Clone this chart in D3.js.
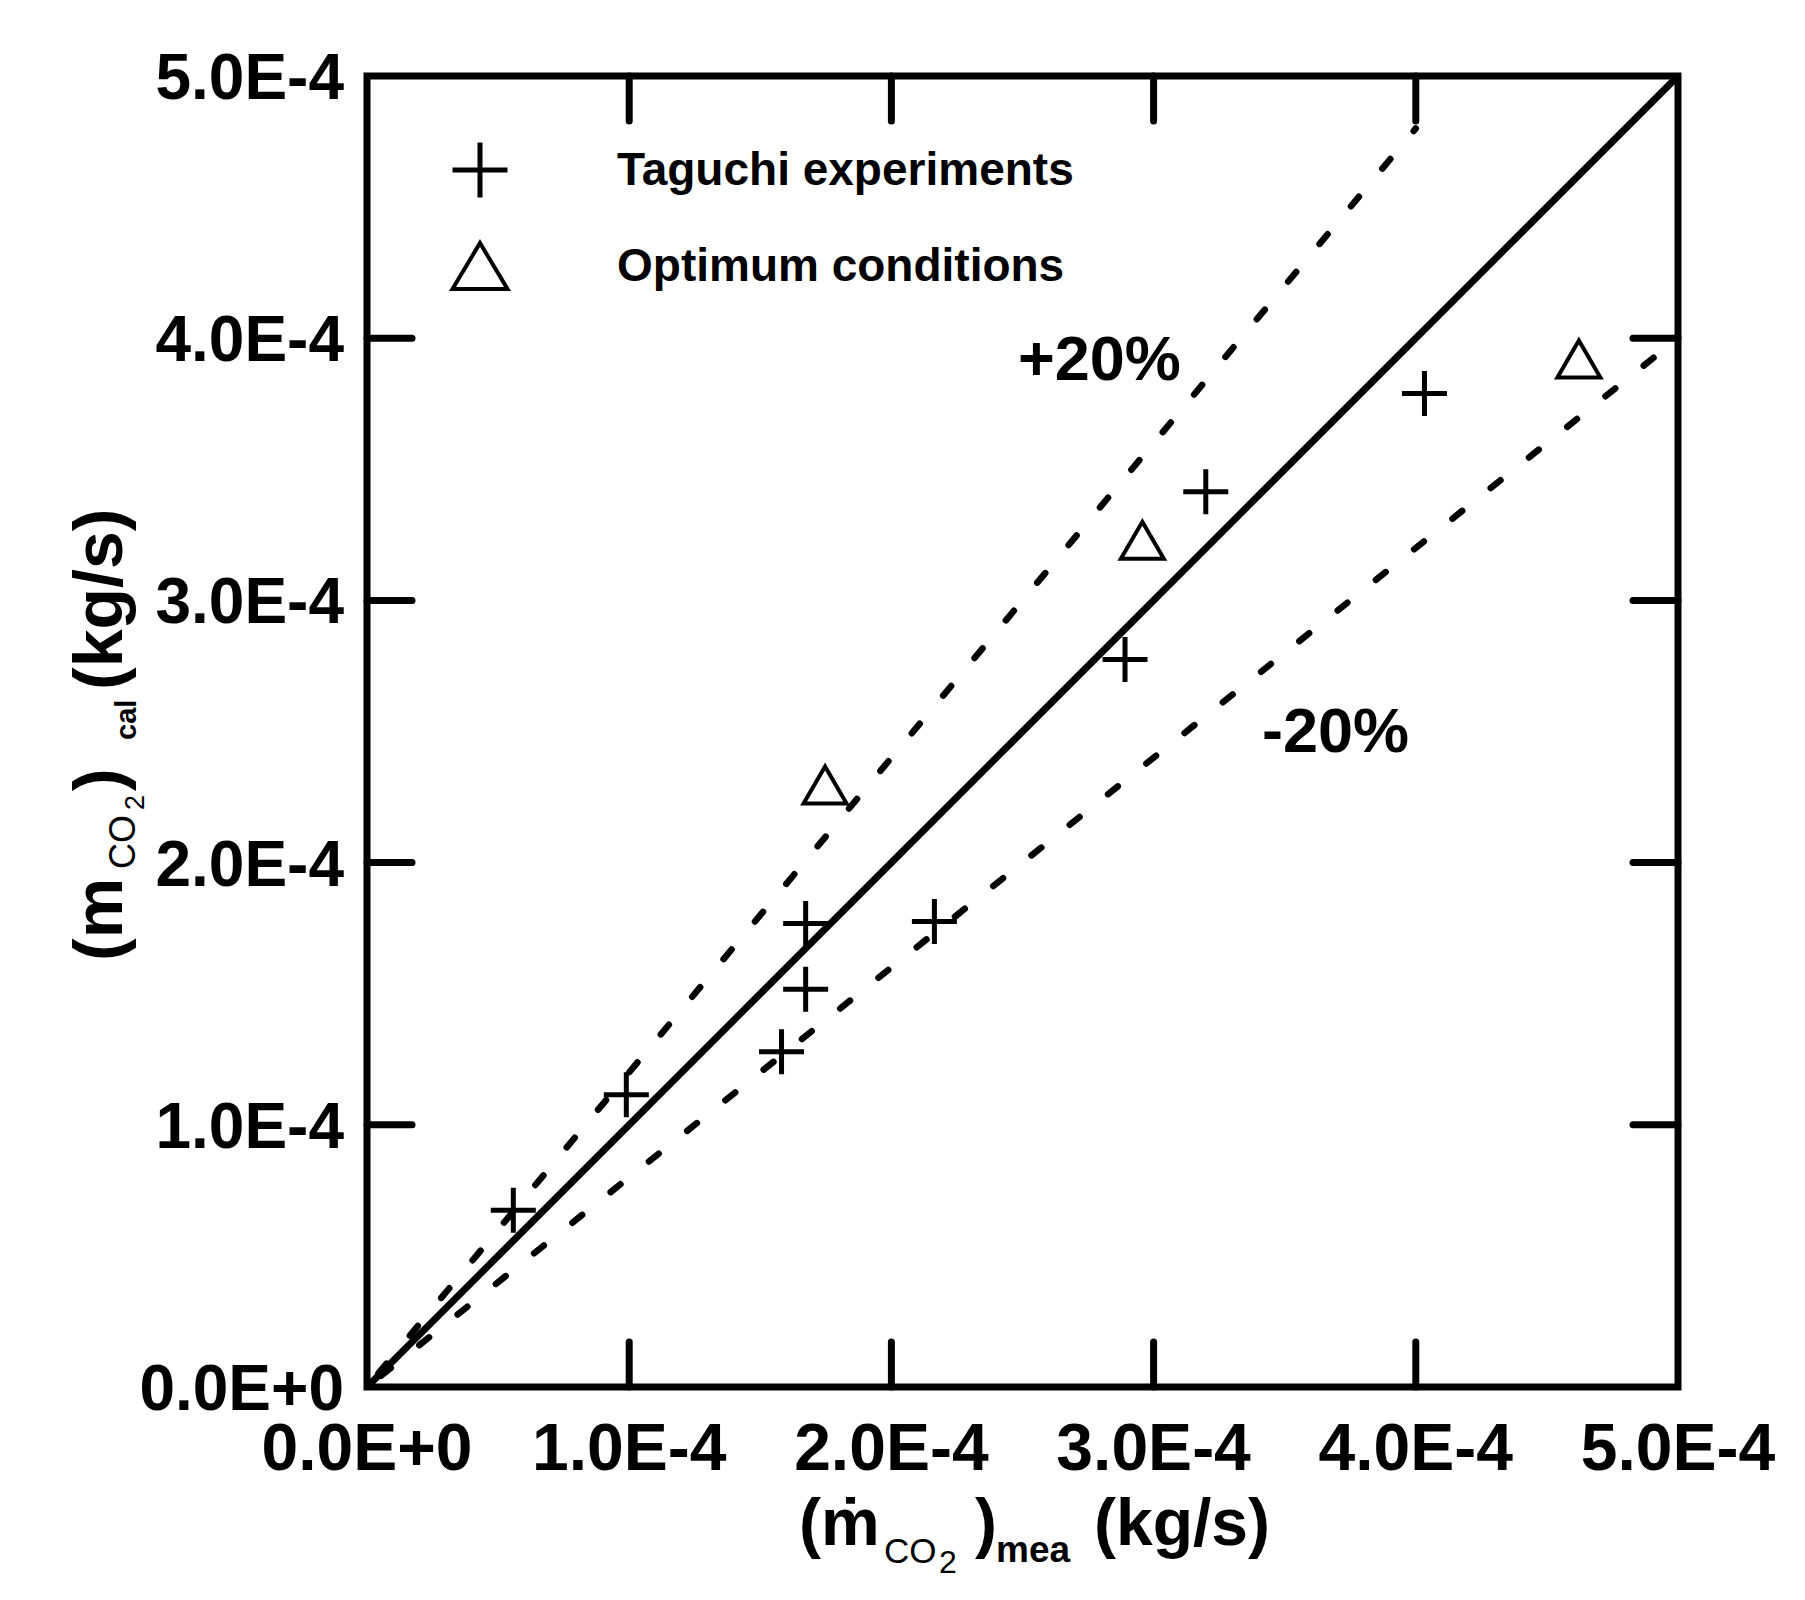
<!DOCTYPE html>
<html>
<head>
<meta charset="utf-8">
<script src="https://cdn.jsdelivr.net/npm/d3@7/dist/d3.min.js"></script>
<style>
  html, body { margin: 0; padding: 0; background: #fff; }
  svg { display: block; }
  text { font-family: "Liberation Sans", Arial, sans-serif; fill: #000; }
</style>
</head>
<body>
<svg id="chart" width="1805" height="1600"></svg>
<script>
// ---------- data (values in kg/s) ----------
const tickValues = [0, 1e-4, 2e-4, 3e-4, 4e-4, 5e-4];
const tickLabels = ["0.0E+0", "1.0E-4", "2.0E-4", "3.0E-4", "4.0E-4", "5.0E-4"];

const taguchiMea = [0.558e-4, 0.989e-4, 1.581e-4, 1.673e-4, 1.673e-4, 2.164e-4, 2.891e-4, 3.199e-4, 4.033e-4];
const taguchiCal = [0.674e-4, 1.115e-4, 1.279e-4, 1.517e-4, 1.768e-4, 1.775e-4, 2.775e-4, 3.414e-4, 3.789e-4];

const optimumMea = [1.747e-4, 2.957e-4, 4.622e-4];
const optimumCal = [2.296e-4, 3.229e-4, 3.921e-4];

// reference lines: y = factor * x, drawn from 0 to xEnd
const lineFactors = [1.0, 1.2, 0.8];
const lineEnds    = [5e-4, 4e-4, 5e-4];
const lineDashed  = [false, true, true];

const legendNames = ["Taguchi experiments", "Optimum conditions"];
const bandLabels  = ["+20%", "-20%"];

// ---------- layout ----------
const svg = d3.select("#chart");
const L = 367, R = 1678, T = 76, B = 1387;
const x = d3.scaleLinear().domain([0, 5e-4]).range([L, R]);
const y = d3.scaleLinear().domain([0, 5e-4]).range([B, T]);

const g = svg.append("g");

// reference lines
lineFactors.forEach((f, i) => {
  const pts = [[0, 0], [lineEnds[i], f * lineEnds[i]]];
  g.append("path")
    .attr("d", d3.line().x(d => x(d[0])).y(d => y(d[1]))(pts))
    .attr("fill", "none")
    .attr("stroke", "#000")
    .attr("stroke-width", lineDashed[i] ? 6.5 : 7)
    .attr("stroke-linecap", lineDashed[i] ? "round" : "butt")
    .attr("stroke-dasharray", lineDashed[i] ? "12.5,36.5" : null)
    .attr("stroke-dashoffset", lineDashed[i] ? -18 : null);
});

// ticks on all 4 sides, inward
const tickLen = 45;
const tickG = g.append("g").attr("stroke", "#000").attr("stroke-width", 7).attr("stroke-linecap", "round");
tickValues.slice(1, -1).forEach(v => {
  tickG.append("line").attr("x1", x(v)).attr("x2", x(v)).attr("y1", B).attr("y2", B - tickLen);
  tickG.append("line").attr("x1", x(v)).attr("x2", x(v)).attr("y1", T).attr("y2", T + tickLen);
  tickG.append("line").attr("y1", y(v)).attr("y2", y(v)).attr("x1", L).attr("x2", L + tickLen);
  tickG.append("line").attr("y1", y(v)).attr("y2", y(v)).attr("x1", R).attr("x2", R - tickLen);
});

// frame
g.append("rect")
  .attr("x", L).attr("y", T).attr("width", R - L).attr("height", B - T)
  .attr("fill", "none").attr("stroke", "#000").attr("stroke-width", 7);

// tick labels
tickValues.forEach((v, i) => {
  g.append("text").attr("x", x(v)).attr("y", 1470)
    .attr("text-anchor", "middle").attr("font-size", 66).attr("font-weight", "bold")
    .text(tickLabels[i]);
  g.append("text").attr("x", 344).attr("y", y(v) + 23)
    .attr("text-anchor", "end").attr("font-size", 64).attr("font-weight", "bold")
    .text(tickLabels[i]);
});

// markers
function plusPath(s) { const h = s / 2; return `M${-h},0H${h}M0,${-h}V${h}`; }
function triPath(w, h) { return `M0,${-h/2}L${w/2},${h/2}L${-w/2},${h/2}Z`; }

taguchiMea.forEach((v, i) => {
  g.append("path").attr("d", plusPath(45))
    .attr("transform", `translate(${x(v)},${y(taguchiCal[i])})`)
    .attr("stroke", "#000").attr("stroke-width", 5).attr("fill", "none");
});
optimumMea.forEach((v, i) => {
  g.append("path").attr("d", triPath(43, 37))
    .attr("transform", `translate(${x(v)},${y(optimumCal[i])})`)
    .attr("stroke", "#000").attr("stroke-width", 4).attr("stroke-linejoin", "miter").attr("fill", "none");
});

// legend
g.append("path").attr("d", plusPath(55)).attr("transform", "translate(480,170)")
  .attr("stroke", "#000").attr("stroke-width", 5).attr("fill", "none");
g.append("path").attr("d", triPath(55, 46)).attr("transform", "translate(480,266)")
  .attr("stroke", "#000").attr("stroke-width", 4).attr("fill", "none");
g.append("text").attr("x", 617).attr("y", 185).attr("font-size", 46).attr("font-weight", "bold").text(legendNames[0]);
g.append("text").attr("x", 617).attr("y", 281).attr("font-size", 46).attr("font-weight", "bold").text(legendNames[1]);

// band labels
g.append("text").attr("x", 1018).attr("y", 380).attr("font-size", 63).attr("font-weight", "bold").text(bandLabels[0]);
g.append("text").attr("x", 1262).attr("y", 752).attr("font-size", 63).attr("font-weight", "bold").text(bandLabels[1]);

// x axis title
const xt = g.append("g");
function piece(parent, px, py, size, weight, str) {
  parent.append("text").attr("x", px).attr("y", py).attr("font-size", size)
    .attr("font-weight", weight).text(str);
}
piece(xt, 799, 1545, 66, "bold", "(\u1E41");
piece(xt, 884, 1563, 35, "normal", "CO");
piece(xt, 939, 1573, 32, "normal", "2");
piece(xt, 975, 1545, 66, "bold", ")");
piece(xt, 996, 1562, 37, "bold", "mea");
piece(xt, 1094, 1545, 66, "bold", "(kg/s)");

// y axis title (rotated)
const yt = g.append("g").attr("transform", "translate(122,0) rotate(-90)");
piece(yt, -961, 0, 68, "bold", "(m");
piece(yt, -869, 13, 36, "normal", "CO");
piece(yt, -810, 22, 27, "normal", "2");
piece(yt, -791, 0, 68, "bold", ")");
piece(yt, -740, 14, 29, "bold", "cal");
piece(yt, -690, 0, 68, "bold", "(kg/s)");
</script>
</body>
</html>
